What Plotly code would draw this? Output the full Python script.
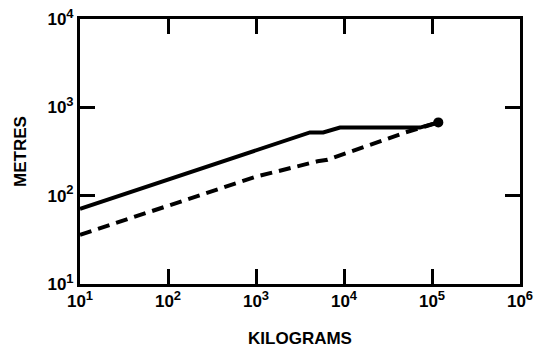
import plotly.graph_objects as go

# Data (log-log)
solid_x = [10, 4100, 5800, 9000, 73000, 118000]
solid_y = [71, 520, 520, 590, 590, 675]
dashed_x = [10, 1000, 5000, 6500, 50000, 118000]
dashed_y = [36, 164, 245, 255, 520, 675]
dot_x = [118000]
dot_y = [675]

x_tickvals = [1e1, 1e2, 1e3, 1e4, 1e5, 1e6]
x_exps = ["1", "2", "3", "4", "5", "6"]
y_tickvals = [1e1, 1e2, 1e3, 1e4]
y_exps = ["1", "2", "3", "4"]


def label(e):
    return "<b>10<sup><span style='font-size:13px'>" + e + "</span></sup></b>"


x_ticktext = [label(e) for e in x_exps]
y_ticktext = [label(e) for e in y_exps]

fig = go.Figure()
fig.add_trace(go.Scatter(x=dashed_x, y=dashed_y, mode="lines",
                         line=dict(color="black", width=4, dash="12px,7px")))
fig.add_trace(go.Scatter(x=solid_x, y=solid_y, mode="lines",
                         line=dict(color="black", width=4)))
fig.add_trace(go.Scatter(x=dot_x, y=dot_y, mode="markers",
                         marker=dict(color="black", size=10)))

font = dict(family="Liberation Sans, Arial, sans-serif", color="black")
axis_common = dict(
    type="log", showgrid=False, zeroline=False, automargin=False,
    showline=True, linecolor="black", linewidth=3, mirror="allticks",
    ticks="inside", ticklen=15, tickwidth=3, tickcolor="black",
    tickfont=dict(size=17, **font), ticklabeloverflow="allow",
)
fig.update_layout(
    width=539, height=348,
    margin=dict(l=80, r=19, t=19, b=64),
    paper_bgcolor="white", plot_bgcolor="white",
    showlegend=False,
    xaxis=dict(range=[1, 6], tickvals=x_tickvals, ticktext=x_ticktext,
               title=dict(text="<b>KILOGRAMS</b>", font=dict(size=17, **font), standoff=25),
               **axis_common),
    yaxis=dict(range=[1, 4], tickvals=y_tickvals, ticktext=y_ticktext,
               title=dict(text="<b>METRES</b>", font=dict(size=17, **font), standoff=17),
               **axis_common),
)
# remove the default page margin so the figure fills the window exactly
fig.write_html("out.html", config={"displayModeBar": False},
               post_script="document.body.style.margin='0';")
